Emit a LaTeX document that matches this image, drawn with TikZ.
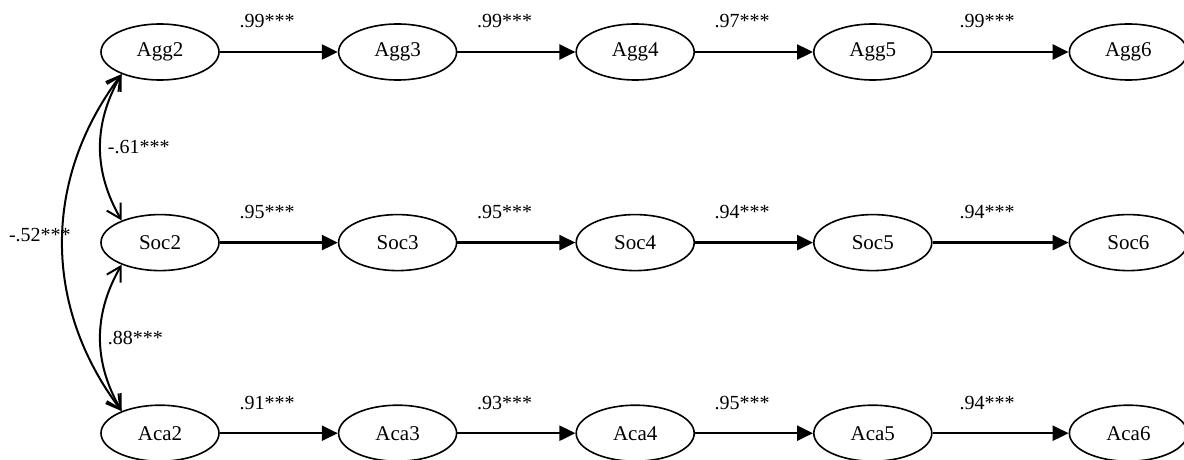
\documentclass[tikz,border=0pt]{standalone}
\usepackage{fontspec}
\setmainfont{Liberation Serif}
\usepackage{tikz}
\usetikzlibrary{arrows.meta,positioning,shapes.geometric}

\begin{document}
\begin{tikzpicture}[x=0.5pt, y=-0.5pt, font=\fontsize{10.5}{12}\selectfont,
      node distance=66.5pt and 59pt,
      lat/.style={draw, ellipse, line width=0.8pt, inner sep=0pt, minimum width=59pt, minimum height=28pt},
      reg/.style={-{Triangle[length=8pt,width=7.5pt]}, line width=1.2pt},
      cov/.style={{Straight Barb[length=7pt,width=8pt]}-{Straight Barb[length=7pt,width=8pt]}, line width=1pt},
      est/.style={font=\fontsize{10}{12}\selectfont}]
    \useasboundingbox (0,0) rectangle (1184,460);
    % aggression
    \node[lat] (Agg2) at (160,52) {Agg2};
    \node[lat, right=of Agg2] (Agg3) {Agg3};
    \node[lat, right=of Agg3] (Agg4) {Agg4};
    \node[lat, right=of Agg4] (Agg5) {Agg5};
    \node[lat, right=68pt of Agg5] (Agg6) {Agg6};
    % social
    \node[lat, below=of Agg2] (Soc2) {Soc2};
    \node[lat, right=of Soc2] (Soc3) {Soc3};
    \node[lat, right=of Soc3] (Soc4) {Soc4};
    \node[lat, right=of Soc4] (Soc5) {Soc5};
    \node[lat, right=68pt of Soc5] (Soc6) {Soc6};
    % academic
    \node[lat, below=of Soc2] (Aca2) {Aca2};
    \node[lat, right=of Aca2] (Aca3) {Aca3};
    \node[lat, right=of Aca3] (Aca4) {Aca4};
    \node[lat, right=of Aca4] (Aca5) {Aca5};
    \node[lat, right=68pt of Aca5] (Aca6) {Aca6};
    \draw[reg] (Agg2) -- node[est, pos=0.4, above=8pt] {.99***} (Agg3);
    \draw[reg] (Agg3) -- node[est, pos=0.4, above=8pt] {.99***} (Agg4);
    \draw[reg] (Agg4) -- node[est, pos=0.4, above=8pt] {.97***} (Agg5);
    \draw[reg] (Agg5) -- node[est, pos=0.4, above=8pt] {.99***} (Agg6);
    \draw[reg] (Soc2) -- node[est, pos=0.4, above=8pt] {.95***} (Soc3);
    \draw[reg] (Soc3) -- node[est, pos=0.4, above=8pt] {.95***} (Soc4);
    \draw[reg] (Soc4) -- node[est, pos=0.4, above=8pt] {.94***} (Soc5);
    \draw[reg] (Soc5) -- node[est, pos=0.4, above=8pt] {.94***} (Soc6);
    \draw[reg] (Aca2) -- node[est, pos=0.4, above=8pt] {.91***} (Aca3);
    \draw[reg] (Aca3) -- node[est, pos=0.4, above=8pt] {.93***} (Aca4);
    \draw[reg] (Aca4) -- node[est, pos=0.4, above=8pt] {.95***} (Aca5);
    \draw[reg] (Aca5) -- node[est, pos=0.4, above=8pt] {.94***} (Aca6);
    % correlations at wave 2
    \draw[cov] (Agg2.210) to[out=240, in=120] node[est, right] {-.61***} (Soc2.150);
    \draw[cov] (Soc2.210) to[out=240, in=120] node[est, right] {.88***} (Aca2.150);
    \draw[cov] (Agg2.210) to[out=233, in=127] node[est, left, xshift=8pt, yshift=4pt] {-.52***} (Aca2.150);
\end{tikzpicture}
\end{document}
